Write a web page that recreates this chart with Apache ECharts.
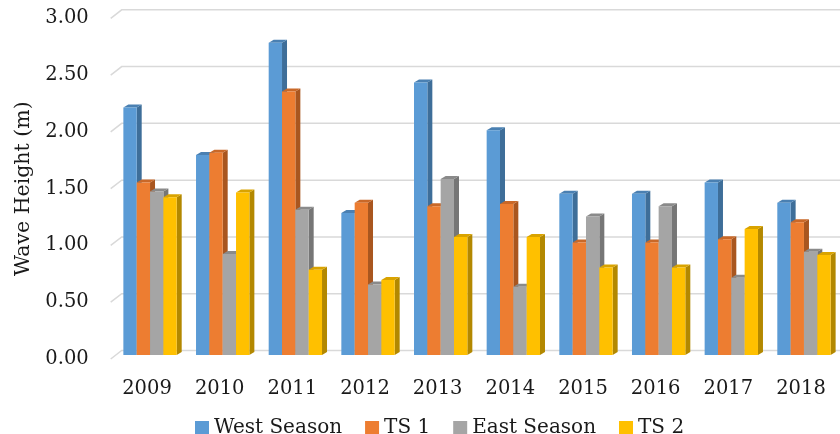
<!DOCTYPE html>
<html>
<head>
<meta charset="utf-8">
<script src="https://cdn.jsdelivr.net/npm/echarts@6/dist/echarts.min.js"></script>
<style>
  html, body { margin: 0; padding: 0; background: #fff; }
  #chart { width: 840px; height: 434px; }
</style>
</head>
<body>
<div id="chart"></div>
<script>
// Yearly wave heights (m) by season
const years = ['2009', '2010', '2011', '2012', '2013', '2014', '2015', '2016', '2017', '2018'];
const westSeason = [2.18, 1.76, 2.75, 1.25, 2.40, 1.98, 1.42, 1.42, 1.52, 1.34];
const ts1        = [1.52, 1.78, 2.32, 1.34, 1.31, 1.33, 0.99, 0.99, 1.02, 1.17];
const eastSeason = [1.44, 0.89, 1.28, 0.62, 1.55, 0.60, 1.22, 1.31, 0.68, 0.91];
const ts2        = [1.39, 1.43, 0.75, 0.66, 1.04, 1.04, 0.77, 0.77, 1.11, 0.88];
const seriesNames = ['West Season', 'TS 1', 'East Season', 'TS 2'];
const yTicks = [0, 0.5, 1, 1.5, 2, 2.5, 3];

// face colours: front, side, top
const palette = [
  { front: '#5B9BD5', side: '#3E6E99', top: '#4A80B2' },
  { front: '#ED7D31', side: '#A9561F', top: '#C96828' },
  { front: '#A5A5A5', side: '#767676', top: '#8A8A8A' },
  { front: '#FFC000', side: '#B38800', top: '#D9A300' }
];

const FONT = 'DejaVu Serif';
const WALL_DX = 11, WALL_DY = -8.5;   // back wall offset from the front plane
const BAR_SHIFT_X = 3, BAR_SHIFT_Y = -4; // bar front plane offset
const BAR_DX = 5, BAR_DY = -3;        // bar depth
const BAR_FRAC = 0.1835;              // bar width as fraction of a category band

function barRenderer(k) {
  const c = palette[k];
  return function (params, api) {
    const ci = api.value(0);
    const v = api.value(1);
    const base = api.coord([ci, 0]);
    const top = api.coord([ci, v]);
    const band = api.size([1, 0])[0];
    const bw = band * BAR_FRAC;
    const x0 = base[0] - 2 * bw + k * bw + BAR_SHIFT_X;
    const x1 = x0 + bw;
    const yb = base[1] + BAR_SHIFT_Y;
    const yt = top[1] + BAR_SHIFT_Y;
    return {
      type: 'group',
      children: [
        {
          type: 'polygon',
          shape: { points: [[x1, yt], [x1 + BAR_DX, yt + BAR_DY], [x1 + BAR_DX, yb + BAR_DY], [x1, yb]] },
          style: { fill: c.side }
        },
        {
          type: 'polygon',
          shape: { points: [[x0, yt], [x0 + BAR_DX, yt + BAR_DY], [x1 + BAR_DX, yt + BAR_DY], [x1, yt]] },
          style: { fill: c.top }
        },
        {
          type: 'rect',
          shape: { x: x0, y: yt, width: bw, height: yb - yt },
          style: { fill: c.front }
        }
      ]
    };
  };
}

const valueLists = [westSeason, ts1, eastSeason, ts2];

const barSeries = valueLists.map((vals, k) => ({
  name: seriesNames[k],
  type: 'custom',
  renderItem: barRenderer(k),
  itemStyle: { color: palette[k].front },
  encode: { x: 0, y: 1 },
  data: vals.map((v, i) => [i, v]),
  z: 3
}));

// back-wall gridlines with a short diagonal on the left side wall
const gridSeries = {
  type: 'custom',
  silent: true,
  z: 1,
  renderItem: function (params, api) {
    const v = api.value(1);
    const p = api.coord([0, v]);
    const cs = params.coordSys;
    const xf = cs.x;
    const yf = p[1];
    return {
      type: 'polyline',
      shape: { points: [[xf, yf], [xf + WALL_DX, yf + WALL_DY], [cs.x + cs.width + WALL_DX, yf + WALL_DY]] },
      style: { stroke: '#D9D9D9', lineWidth: 1.5, fill: null }
    };
  },
  encode: { x: 0, y: 1 },
  data: yTicks.map(v => [0, v])
};

const chart = echarts.init(document.getElementById('chart'), null, { renderer: 'canvas' });
chart.setOption({
  animation: false,
  color: palette.map(p => p.front),
  textStyle: { fontFamily: FONT },
  grid: { left: 110.7, right: 2.7, top: 18.3, bottom: 75 },
  legend: {
    data: seriesNames,
    left: 190,
    top: 413,
    icon: 'rect',
    itemWidth: 14,
    itemHeight: 14,
    itemGap: 23,
    textStyle: { fontFamily: FONT, fontSize: 20, color: '#1a1a1a' }
  },
  xAxis: {
    type: 'category',
    data: years,
    axisLine: { show: false },
    axisTick: { show: false },
    axisLabel: { fontFamily: FONT, fontSize: 19.5, color: '#1a1a1a', margin: 20 },
    splitLine: { show: false }
  },
  yAxis: {
    type: 'value',
    min: 0,
    max: 3,
    interval: 0.5,
    name: 'Wave Height (m)',
    nameLocation: 'middle',
    nameRotate: 90,
    nameGap: 72,
    nameTextStyle: { fontFamily: FONT, fontSize: 20.5, color: '#1a1a1a' },
    axisLine: { show: false },
    axisTick: { show: false },
    splitLine: { show: false },
    axisLabel: {
      fontFamily: FONT, fontSize: 19.5, color: '#1a1a1a', margin: 22,
      padding: [4, 0, 0, 0],
      formatter: v => v.toFixed(2)
    }
  },
  series: [gridSeries].concat(barSeries)
});
</script>
</body>
</html>
